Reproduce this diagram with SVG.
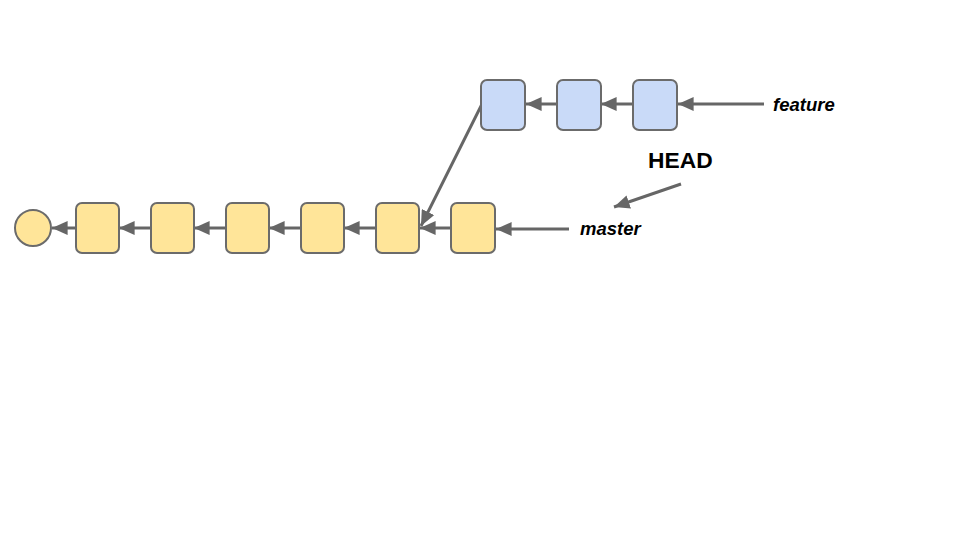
<svg xmlns="http://www.w3.org/2000/svg" width="960" height="540" viewBox="0 0 960 540">
<defs>
<style>
.y{fill:#ffe599;stroke:#6b6b6b;stroke-width:2}
.b{fill:#c9daf8;stroke:#6b6b6b;stroke-width:2}
.c{stroke:#666;stroke-width:3;fill:none}
.t{font-family:"Liberation Sans",Arial,sans-serif;font-weight:bold;fill:#000}
</style>
<marker id="ah" viewBox="0 0 10 10" refX="10" refY="5" markerWidth="5.2" markerHeight="4.6" markerUnits="strokeWidth" orient="auto" preserveAspectRatio="none"><path d="M0,0 L10,5 L0,10 z" fill="#666"/></marker>
</defs>
<rect width="960" height="540" fill="#fff"/>
<g id="connectors">
<line class="c" x1="76" y1="228" x2="52" y2="228" marker-end="url(#ah)"/>
<line class="c" x1="151" y1="228" x2="119" y2="228" marker-end="url(#ah)"/>
<line class="c" x1="226" y1="228" x2="194" y2="228" marker-end="url(#ah)"/>
<line class="c" x1="301" y1="228" x2="269" y2="228" marker-end="url(#ah)"/>
<line class="c" x1="376" y1="228" x2="344" y2="228" marker-end="url(#ah)"/>
<line class="c" x1="451" y1="228" x2="420" y2="228" marker-end="url(#ah)"/>
<line class="c" x1="569" y1="229" x2="496" y2="229" marker-end="url(#ah)"/>
<line class="c" x1="557" y1="104" x2="526" y2="104" marker-end="url(#ah)"/>
<line class="c" x1="633" y1="104" x2="601" y2="104" marker-end="url(#ah)"/>
<line class="c" x1="764" y1="104" x2="678" y2="104" marker-end="url(#ah)"/>
<line class="c" x1="482" y1="104" x2="421" y2="226" marker-end="url(#ah)"/>
<line class="c" x1="681" y1="184" x2="614" y2="207" marker-end="url(#ah)"/>
</g>
<g id="root"><circle class="y" cx="33" cy="228" r="18"/></g>
<g id="m1"><rect class="y" x="76" y="203" width="43" height="50" rx="6"/></g>
<g id="m2"><rect class="y" x="151" y="203" width="43" height="50" rx="6"/></g>
<g id="m3"><rect class="y" x="226" y="203" width="43" height="50" rx="6"/></g>
<g id="m4"><rect class="y" x="301" y="203" width="43" height="50" rx="6"/></g>
<g id="m5"><rect class="y" x="376" y="203" width="43" height="50" rx="6"/></g>
<g id="m6"><rect class="y" x="451" y="203" width="44" height="50" rx="6"/></g>
<g id="f1"><rect class="b" x="481" y="80" width="44" height="50" rx="6"/></g>
<g id="f2"><rect class="b" x="557" y="80" width="44" height="50" rx="6"/></g>
<g id="f3"><rect class="b" x="633" y="80" width="44" height="50" rx="6"/></g>
<g id="feature"><text class="t" x="773" y="111" font-size="18.5" font-style="italic">feature</text></g>
<g id="master"><text class="t" x="580" y="235" font-size="18.5" font-style="italic">master</text></g>
<g id="head"><text class="t" x="648" y="168" font-size="22.8">HEAD</text></g>
</svg>
